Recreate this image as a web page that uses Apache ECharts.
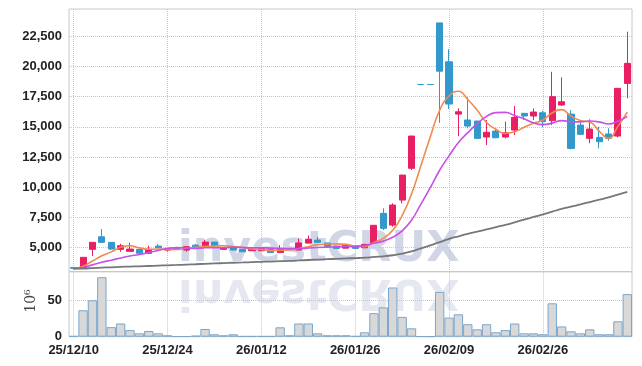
<!DOCTYPE html>
<html><head><meta charset="utf-8">
<script src="https://cdn.jsdelivr.net/npm/echarts@6/dist/echarts.min.js"></script>
<style>html,body{margin:0;padding:0;background:#fff}#c{width:642px;height:366px}</style>
</head><body><div id="c"></div>
<script>
const dates = ['25/12/10','25/12/11','25/12/12','25/12/15','25/12/16','25/12/17','25/12/18','25/12/19','25/12/22','25/12/23',
  '25/12/24','25/12/26','25/12/29','25/12/30','26/01/02','26/01/05','26/01/06','26/01/07','26/01/08','26/01/09',
  '26/01/12','26/01/13','26/01/14','26/01/15','26/01/16','26/01/19','26/01/20','26/01/21','26/01/22','26/01/23',
  '26/01/26','26/01/27','26/01/28','26/01/29','26/01/30','26/02/02','26/02/03','26/02/04','26/02/05','26/02/06',
  '26/02/09','26/02/10','26/02/11','26/02/12','26/02/13','26/02/19','26/02/20','26/02/23','26/02/24','26/02/25',
  '26/02/26','26/02/27','26/03/03','26/03/04','26/03/05','26/03/06','26/03/09','26/03/10','26/03/11','26/03/12'];
const opens = [3350,3290,4850,5890,5430,4850,4685,4850,4520,5120,
  4790,4950,4790,5200,5150,5450,4850,5000,4850,4735,
  4735,4860,4580,4900,4790,5370,5620,5380,5120,4950,
  5120,4980,5400,7830,6860,8930,11560,18500,18500,23600,
  20380,16050,15560,15470,14150,14640,14150,14730,16110,15890,
  16160,15500,16800,16050,15140,14040,14120,14400,14230,18590];
const closes = [3290,4190,5430,5430,4875,5150,4875,4520,4850,4980,
  4930,4900,5070,5070,5450,5150,5000,4790,4650,4860,
  4900,4580,4900,4820,5380,5680,5430,5100,4930,5180,
  4930,5260,6840,6590,8520,11000,14230,18500,18500,19600,
  16880,16240,15060,14040,14540,14090,14500,15780,15890,16220,
  15420,17490,17070,13210,14370,14810,13760,14040,18180,20250];
const lows = [3250,3280,4300,5400,4800,4650,4685,4500,4520,4950,
  4650,4880,4650,5050,5140,5140,4830,4780,4640,4700,
  4720,4570,4570,4800,4780,5360,5420,5090,4920,4940,
  4920,4970,5390,6450,6720,8660,11420,18500,18500,15330,
  16470,14230,14870,14000,13490,14050,14040,14310,15560,15560,
  14950,15140,16720,13130,14300,13630,13210,13840,14120,17350];
const highs = [3380,4200,5430,6530,5450,5310,5400,4870,5150,5290,
  4950,4970,5080,5300,5650,5470,5020,5100,4860,4880,
  4920,4870,5200,4920,5750,6000,5900,5400,5130,5200,
  5130,5300,6850,8250,8660,11010,14240,18500,18500,23600,
  21410,16520,17440,15500,15560,14870,15420,16720,16150,16520,
  16330,19550,19090,16380,15420,15610,15000,14870,18200,22870];
const volumes = [1,36,49.6,81,13,18,9,4.6,7.8,4.6,
  1.9,0.5,0.5,1.5,10.5,3.3,1.9,3.3,0.8,0.8,
  0.8,0.8,12.8,1.9,18,18,4.6,1.9,1.9,1.9,
  1,6,32,40,67,27,11.4,0.5,0.3,61,
  26,30.5,17,10,17,6,9,18,4.6,4.6,
  3.3,45.5,14,7.3,4.6,10,3.3,3.3,21,58];
const ma5 = [3258,3446,3882,4318,4643,5015,5152,4970,4854,4875,
  4831,4836,4946,4990,5084,5128,5148,5092,5008,4890,
  4840,4756,4778,4812,4916,5072,5242,5282,5304,5264,
  5114,5080,5428,5760,6428,7642,9436,11768,14150,16366,
  17542,17944,17256,16364,15352,14794,14446,14590,14960,15296,
  15562,16160,16418,15882,15512,15390,14644,14038,15032,16208];
const ma10 = [3254,3348,3566,3784,3947,4137,4299,4426,4586,4759,
  4923,4994,4958,4922,4980,4980,4992,5019,4999,4987,
  4984,4952,4935,4910,4903,4956,4999,5030,5058,5090,
  5093,5161,5355,5532,5846,6378,7258,8598,9955,11397,
  12592,13690,14512,15257,15859,16168,16195,15923,15662,15324,
  15178,15303,15504,15421,15404,15476,15402,15228,15457,15860];
const ma60 = [3251,3266,3303,3339,3366,3398,3425,3446,3473,3502,
  3530,3557,3587,3618,3654,3686,3715,3741,3764,3791,
  3819,3841,3868,3894,3930,3970,4007,4038,4066,4098,
  4126,4159,4219,4275,4363,4492,4675,4929,5183,5456,
  5720,5930,6130,6310,6500,6690,6880,7090,7310,7530,
  7740,7970,8200,8380,8570,8770,8960,9150,9380,9600];
const priceTicks = [5000,7500,10000,12500,15000,17500,20000,22500];
const labelDates = ['25/12/10','25/12/24','26/01/12','26/01/26','26/02/09','26/02/26'];
const labelIndexes = [0,10,20,30,40,50];
const flatDays = ['26/02/04','26/02/05'];

const UP = '#e91e63', DOWN = '#3399cc';
const FONT = "'Liberation Sans', Arial, sans-serif";
const GRIDLINE = {type:'dotted', color:'#bfc6da', width:1};

const candleData = dates.map((d, i) => {
  const item = {value:[opens[i], closes[i], lows[i], highs[i]]};
  if (flatDays.includes(d)) item.itemStyle = {color:DOWN, color0:DOWN, borderColor:DOWN, borderColor0:DOWN, borderColorDoji:DOWN};
  return item;
});
const labelStyle = {color:'#222', fontFamily:FONT, fontSize:13, fontWeight:'bold'};
const vGridAxis = g => ({type:'value', gridIndex:g, min:-0.5, max:dates.length - 0.5, position:'top',
  axisLine:{show:false}, axisLabel:{show:false}, axisTick:{show:false, customValues:labelIndexes},
  splitLine:{show:true, customValues:labelIndexes, lineStyle:GRIDLINE}});

const chart = echarts.init(document.getElementById('c'), null, {renderer:'canvas'});
chart.setOption({
  animation:false,
  grid:[
    {left:69, right:10, top:9, height:262.7, show:true, borderColor:'#c8c8c8', borderWidth:1},
    {left:69, right:10, top:271.7, bottom:29.3, show:true, borderColor:'#c8c8c8', borderWidth:1}
  ],
  xAxis:[
    {type:'category', gridIndex:0, data:dates, boundaryGap:true, axisLine:{show:false}, axisTick:{show:false}, axisLabel:{show:false}, splitLine:{show:false}},
    {type:'category', gridIndex:1, data:dates, boundaryGap:true, axisLine:{show:false}, axisTick:{show:false},
      axisLabel:Object.assign({interval:(i, v) => labelDates.includes(v), margin:7}, labelStyle), splitLine:{show:false}},
    vGridAxis(0), vGridAxis(1)
  ],
  yAxis:[
    {type:'value', gridIndex:0, min:3000, max:24750, axisLine:{show:false},
      axisTick:{show:false, customValues:priceTicks},
      axisLabel:Object.assign({customValues:priceTicks, margin:7, formatter:v => v.toLocaleString('en-US')}, labelStyle),
      splitLine:{show:true, customValues:priceTicks, lineStyle:GRIDLINE}},
    {type:'value', gridIndex:1, min:0, max:88.5, interval:50, axisLine:{show:false}, axisTick:{show:false},
      axisLabel:Object.assign({showMaxLabel:false, margin:7}, labelStyle),
      splitLine:{show:true, lineStyle:GRIDLINE}}
  ],
  graphic:[
    {type:'text', z:-10, x:178, y:249.5, silent:true, style:{text:'investCRUX', font:"bold 43px 'DejaVu Sans'", fill:'#d1d6e6', verticalAlign:'middle'}},
    {type:'text', z:-10, x:178, y:291.5, scaleY:-1, silent:true, style:{text:'investCRUX', font:"bold 43px 'DejaVu Sans'", fill:'#e6e8f1', verticalAlign:'middle'}},
    {type:'text', x:31, y:301, rotation:Math.PI/2, silent:true, style:{text:'10⁶', font:"14px 'DejaVu Serif'", fill:'#444', align:'center', verticalAlign:'middle'}}
  ],
  series:[
    {type:'candlestick', xAxisIndex:0, yAxisIndex:0, data:candleData, barWidth:'70%',
      itemStyle:{color:UP, color0:DOWN, borderColor:UP, borderColor0:DOWN, borderWidth:1}},
    {type:'line', xAxisIndex:0, yAxisIndex:0, data:ma5, smooth:true, symbol:'none', lineStyle:{color:'#f08a4e', width:1.6}},
    {type:'line', xAxisIndex:0, yAxisIndex:0, data:ma10, smooth:true, symbol:'none', lineStyle:{color:'#c94fe8', width:1.6}},
    {type:'line', xAxisIndex:0, yAxisIndex:0, data:ma60, smooth:true, symbol:'none', lineStyle:{color:'#777777', width:1.8}},
    {type:'bar', xAxisIndex:1, yAxisIndex:1, data:volumes, barCategoryGap:'0%',
      itemStyle:{color:'#d8d8d8', borderColor:'#7ba6cc', borderWidth:1}}
  ]
});
</script></body></html>
